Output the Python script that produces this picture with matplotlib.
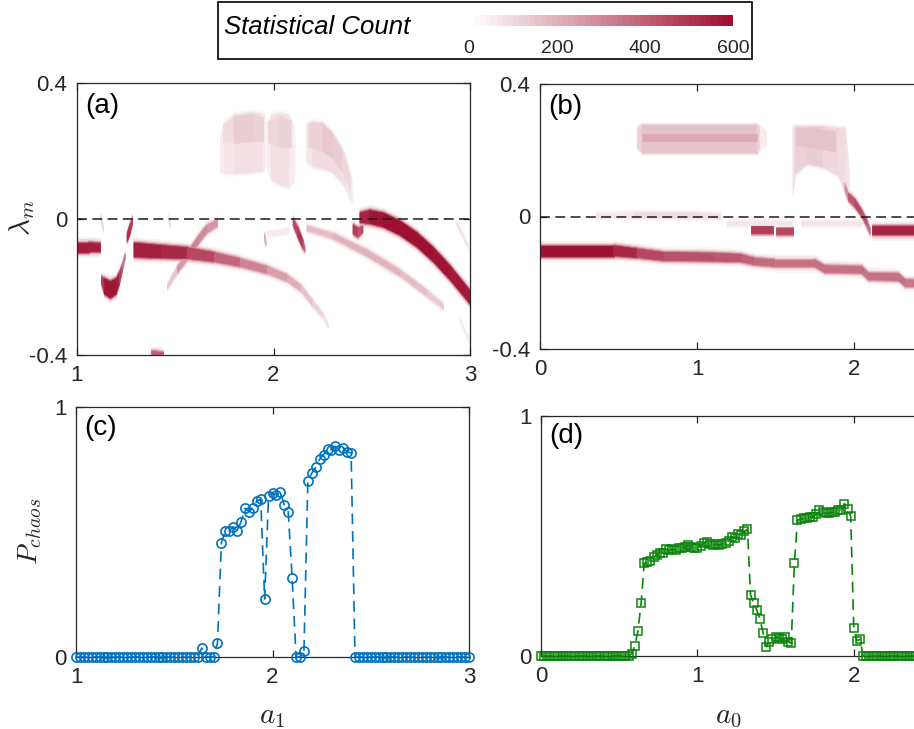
import matplotlib

matplotlib.use("Agg")
import matplotlib.pyplot as plt
import numpy as np
from matplotlib.cm import ScalarMappable
from matplotlib.collections import PolyCollection
from matplotlib.colors import LinearSegmentedColormap, Normalize
from matplotlib.patches import Rectangle

plt.rcParams["font.family"] = ["Liberation Sans", "DejaVu Sans"]
plt.rcParams["mathtext.fontset"] = "cm"

W, H = 914, 729  # output size in pixels (dpi 100)

# colour scale of the density panels
COUNT_MAX = 600
CBAR_TICKS = [0, 200, 400, 600]
DARK_RED = "#9e1030"
BLUE = "#0072bd"
GREEN = "#0a840a"
AXIS_GREY = "#262626"

# ---- panel (a): lambda_m density vs a1, rows are (a1, lambda, half width, count)
A_FLAT = [(1.00, -0.083, 0.013, 560), (1.06, -0.083, 0.013, 570), (1.12, -0.084, 0.012, 540)]
A_HOOK = [(1.125, -0.180, 0.010, 420), (1.14, -0.198, 0.022, 560), (1.17, -0.208, 0.024, 590),
          (1.20, -0.198, 0.022, 580), (1.215, -0.175, 0.017, 520), (1.23, -0.145, 0.009, 420),
          (1.245, -0.110, 0.005, 280)]
A_SPIKE = [(1.255, -0.055, 0.011, 480), (1.27, -0.030, 0.013, 560), (1.283, -0.004, 0.007, 420)]
A_MAIN = [(1.29, -0.091, 0.020, 560), (1.43, -0.096, 0.018, 550), (1.56, -0.100, 0.016, 500),
          (1.70, -0.112, 0.013, 410), (1.83, -0.128, 0.011, 340), (1.97, -0.150, 0.010, 270),
          (2.07, -0.174, 0.009, 220), (2.14, -0.204, 0.008, 180), (2.20, -0.248, 0.007, 140),
          (2.255, -0.287, 0.005, 100), (2.28, -0.316, 0.003, 60)]
A_RISE = [(1.46, -0.200, 0.005, 80), (1.51, -0.150, 0.009, 200), (1.56, -0.110, 0.011, 300),
          (1.62, -0.060, 0.011, 300), (1.66, -0.030, 0.011, 280), (1.714, -0.012, 0.009, 250)]
A_BLIP = [(2.10, -0.008, 0.009, 380), (2.125, -0.040, 0.014, 520), (2.15, -0.075, 0.011, 480),
          (2.16, -0.090, 0.005, 300)]
A_DOT = [(1.955, -0.052, 0.007, 260), (1.962, -0.072, 0.005, 200)]
A_FAINT = [(1.97, -0.045, 0.005, 60), (2.08, -0.035, 0.005, 60)]
A_SPECK1 = [(1.12, 0.008, 0.004, 100), (1.135, -0.030, 0.004, 100)]
A_SPECK2 = [(1.465, 0.004, 0.004, 90), (1.475, -0.020, 0.004, 90)]
A_THIN = [(2.17, -0.027, 0.006, 150), (2.306, -0.051, 0.007, 180), (2.475, -0.100, 0.008, 200),
          (2.645, -0.159, 0.008, 180), (2.78, -0.218, 0.008, 160), (2.865, -0.258, 0.006, 100)]
A_RIGHT = [(2.44, 0.004, 0.014, 500), (2.49, 0.006, 0.019, 580), (2.56, -0.003, 0.020, 590),
           (2.645, -0.027, 0.020, 590), (2.73, -0.061, 0.020, 590), (2.814, -0.105, 0.020, 590),
           (2.90, -0.159, 0.020, 570), (2.983, -0.218, 0.019, 570), (3.00, -0.230, 0.019, 570)]
A_STUB = [(2.405, -0.030, 0.013, 450), (2.43, -0.040, 0.013, 500), (2.455, -0.030, 0.009, 350)]
A_EDGE1 = [(2.93, -0.010, 0.003, 80), (2.99, -0.080, 0.003, 80)]
A_EDGE2 = [(2.95, -0.300, 0.003, 60), (3.00, -0.360, 0.003, 60)]
A_BOTTOM = [(1.38, -0.394, 0.005, 400), (1.44, -0.398, 0.005, 400)]
# chaotic lobes above zero: a faint body and a stronger upper part
A_LOBE1 = [(1.731, 0.190, 0.050, 40), (1.75, 0.210, 0.075, 65), (1.80, 0.220, 0.085, 75),
           (1.88, 0.225, 0.088, 80), (1.95, 0.225, 0.083, 75), (1.96, 0.220, 0.060, 40)]
A_LOBE1_TOP = [(1.745, 0.250, 0.025, 60), (1.80, 0.262, 0.040, 125), (1.90, 0.268, 0.040, 130),
               (1.95, 0.262, 0.035, 100)]
A_LOBE2 = [(1.968, 0.215, 0.060, 45), (1.99, 0.210, 0.095, 75), (2.04, 0.205, 0.105, 80),
           (2.08, 0.200, 0.105, 75), (2.105, 0.190, 0.080, 45), (2.11, 0.200, 0.050, 30)]
A_LOBE2_TOP = [(1.975, 0.255, 0.030, 80), (2.03, 0.258, 0.045, 130), (2.09, 0.248, 0.040, 115)]
A_LOBE3 = [(2.17, 0.225, 0.055, 55), (2.20, 0.220, 0.065, 85), (2.25, 0.215, 0.065, 95),
           (2.30, 0.195, 0.055, 95), (2.34, 0.165, 0.050, 90), (2.37, 0.135, 0.045, 80),
           (2.40, 0.080, 0.030, 55), (2.405, 0.060, 0.015, 30)]
A_LOBE3_TOP = [(2.18, 0.245, 0.035, 100), (2.25, 0.240, 0.040, 140), (2.30, 0.215, 0.035, 135),
               (2.35, 0.170, 0.030, 125), (2.39, 0.110, 0.020, 80)]

# ---- panel (b): lambda_m density vs a0
B_LOW = [(0.00, -0.1035, 0.015, 590), (0.469, -0.1035, 0.015, 590), (0.618, -0.1106, 0.013, 470),
         (0.789, -0.1206, 0.012, 430), (1.109, -0.1226, 0.012, 430), (1.279, -0.1256, 0.011, 400),
         (1.365, -0.1357, 0.010, 380), (1.493, -0.1407, 0.010, 360), (1.748, -0.1407, 0.010, 360),
         (1.812, -0.1588, 0.010, 360), (2.047, -0.1608, 0.010, 360), (2.09, -0.1809, 0.010, 360),
         (2.281, -0.1829, 0.010, 360), (2.324, -0.2010, 0.010, 340), (2.50, -0.2030, 0.010, 340)]
B_ZERO1 = [(0.36, 0.004, 0.005, 50), (0.60, 0.004, 0.007, 90), (1.00, 0.003, 0.007, 90),
           (1.15, 0.000, 0.006, 60)]
B_ZERO2 = [(1.19, -0.020, 0.005, 70), (1.60, -0.020, 0.005, 70)]
B_ZERO3 = [(1.66, -0.020, 0.005, 70), (2.05, -0.020, 0.005, 70)]
B_DARK1 = [(1.34, -0.040, 0.010, 480), (1.48, -0.040, 0.010, 480)]
B_DARK2 = [(1.50, -0.044, 0.009, 460), (1.61, -0.044, 0.009, 460)]
B_DARK3 = [(2.11, -0.042, 0.012, 540), (2.50, -0.042, 0.012, 540)]
B_TAIL = [(1.94, 0.090, 0.011, 200), (1.962, 0.060, 0.011, 380), (2.004, 0.040, 0.011, 450),
          (2.047, 0.010, 0.009, 450), (2.079, -0.020, 0.009, 420), (2.10, -0.045, 0.007, 350)]
B_BLOB1 = [(0.62, 0.236, 0.030, 90), (0.65, 0.236, 0.040, 150), (1.38, 0.236, 0.040, 150),
           (1.40, 0.236, 0.033, 80), (1.44, 0.236, 0.018, 30)]
B_STREAK = [(0.65, 0.238, 0.010, 220), (1.38, 0.238, 0.010, 220)]
B_BLOB2 = [(1.61, 0.170, 0.100, 40), (1.625, 0.200, 0.070, 110), (1.70, 0.215, 0.055, 130),
           (1.80, 0.210, 0.060, 120), (1.90, 0.195, 0.070, 100), (1.94, 0.170, 0.095, 85),
           (1.96, 0.120, 0.060, 80), (1.97, 0.090, 0.030, 60)]
B_BLOB2_TOP = [(1.63, 0.240, 0.025, 130), (1.75, 0.235, 0.030, 170), (1.88, 0.225, 0.030, 150)]

# ---- panel (c): P_chaos vs a1, sampled every 0.02 from 1 to 3
P_C = [0, 0, 0, 0, 0, 0, 0, 0, 0, 0, 0, 0, 0, 0, 0, 0,
       0, 0, 0, 0, 0, 0, 0, 0, 0, 0, 0, 0, 0, 0, 0, 0,
       0.036, 0, 0, 0, 0.056, 0.457, 0.505, 0.505, 0.521, 0.505, 0.541, 0.595, 0.581,
       0.595, 0.624, 0.631, 0.232, 0.644, 0.657, 0.648, 0.661, 0.608, 0.581, 0.317,
       0, 0, 0.024, 0.704, 0.735, 0.759, 0.791, 0.810, 0.832, 0.829, 0.843, 0.827,
       0.837, 0.820, 0.817,
       0, 0, 0, 0, 0, 0, 0, 0, 0, 0, 0, 0, 0, 0, 0,
       0, 0, 0, 0, 0, 0, 0, 0, 0, 0, 0, 0, 0, 0, 0]
A1 = np.linspace(1.0, 3.0, len(P_C))

# ---- panel (d): P_chaos vs a0, sampled every 0.02 from 0 to 2.5
P_D = [0, 0, 0, 0, 0, 0, 0, 0, 0, 0, 0, 0, 0, 0, 0,
       0, 0, 0, 0, 0, 0, 0, 0, 0, 0, 0, 0, 0, 0,
       0.010, 0.043, 0.105, 0.219, 0.386, 0.390, 0.395, 0.413, 0.420, 0.431, 0.430,
       0.444, 0.440, 0.445, 0.441, 0.448, 0.452, 0.455, 0.462, 0.455, 0.451, 0.451,
       0.460, 0.470, 0.476, 0.465, 0.462, 0.466, 0.462, 0.468, 0.469, 0.480, 0.497,
       0.490, 0.510, 0.505, 0.520, 0.528, 0.254, 0.220, 0.191, 0.154, 0.097, 0.039,
       0.060, 0.070, 0.080, 0.074, 0.070, 0.080, 0.060, 0.053, 0.386, 0.566, 0.570,
       0.573, 0.575, 0.580, 0.580, 0.590, 0.607, 0.600, 0.594, 0.595, 0.598, 0.600,
       0.607, 0.610, 0.635, 0.614, 0.583, 0.115, 0.064, 0.069,
       0, 0, 0, 0, 0, 0, 0, 0, 0, 0, 0, 0,
       0, 0, 0, 0, 0, 0, 0, 0, 0, 0, 0]
A0 = np.linspace(0.0, 2.5, len(P_D))

cmap = LinearSegmentedColormap.from_list("count", ["#ffffff", DARK_RED], N=48)
norm = Normalize(0, COUNT_MAX)

# blurred edges: (extra half width in lambda units, share of the count), outermost first
SOFT = [(0.016, 0.07), (0.010, 0.20), (0.006, 0.42), (0.003, 0.70), (0.0, 1.0)]


def band_polys(rows, extra, share):
    polys, colors = [], []
    for (x0, y0, h0, c0), (x1, y1, h1, c1) in zip(rows[:-1], rows[1:]):
        polys.append([(x0, y0 - h0 - extra), (x1, y1 - h1 - extra),
                      (x1, y1 + h1 + extra), (x0, y0 + h0 + extra)])
        colors.append(cmap(norm(0.5 * (c0 + c1) * share)))
    return polys, colors


def draw_density(ax, bands):
    for layer, (extra, share) in enumerate(SOFT):
        polys, colors = [], []
        for rows in bands:
            p, c = band_polys(rows, extra, share)
            polys += p
            colors += c
        ax.add_collection(PolyCollection(polys, facecolors=colors, edgecolors=colors,
                                         linewidths=0.5, zorder=1 + layer * 0.1))
    ax.axhline(0, color="#1a1a1a", lw=1.1, ls=(0, (6.5, 3.5)), zorder=3)


def style_axes(ax, xlim, xticks, ylim, yticks, yticklabels, tag):
    ax.set_xlim(xlim)
    ax.set_ylim(ylim)
    ax.set_xticks(xticks, [str(t) for t in xticks])
    ax.set_yticks(yticks, yticklabels)
    ax.tick_params(direction="in", length=5, width=0.9, top=True, right=True,
                   labelsize=16, pad=7, color=AXIS_GREY, labelcolor=AXIS_GREY)
    for spine in ax.spines.values():
        spine.set_linewidth(0.9)
        spine.set_color(AXIS_GREY)
    ax.text(0.022, 0.915, tag, transform=ax.transAxes, fontsize=20,
            ha="left", va="center", zorder=10)


def axes_at(fig, left, top, width, bottom):
    return fig.add_axes([left / W, 1 - bottom / H, width / W, (bottom - top) / H])


fig = plt.figure(figsize=(W / 100, H / 100), dpi=100)

ax_a = axes_at(fig, 77, 83, 393, 355)
ax_b = axes_at(fig, 540, 84, 393, 349)
ax_c = axes_at(fig, 76, 407, 393, 657)
ax_d = axes_at(fig, 541, 416, 391, 656)

draw_density(ax_a, [A_LOBE1, A_LOBE2, A_LOBE3, A_LOBE1_TOP, A_LOBE2_TOP, A_LOBE3_TOP,
                    A_FAINT, A_SPECK1, A_SPECK2, A_EDGE1, A_EDGE2, A_THIN, A_RISE,
                    A_MAIN, A_FLAT, A_HOOK, A_SPIKE, A_BLIP, A_DOT, A_RIGHT, A_STUB,
                    A_BOTTOM])
draw_density(ax_b, [B_BLOB1, B_STREAK, B_BLOB2, B_BLOB2_TOP, B_ZERO1, B_ZERO2, B_ZERO3,
                    B_LOW, B_DARK1, B_DARK2, B_DARK3, B_TAIL])

lam_ticks = [-0.4, 0, 0.4]
lam_labels = ["-0.4", "0", "0.4"]
style_axes(ax_a, (1, 3), [1, 2, 3], (-0.4, 0.4), lam_ticks, lam_labels, "(a)")
style_axes(ax_b, (0, 2.5), [0, 1, 2], (-0.4, 0.4), lam_ticks, lam_labels, "(b)")

dash = (0, (6.5, 4))
ax_c.plot(A1, P_C, ls=dash, lw=1.2, color=BLUE, marker="o", ms=6.6,
          mfc="none", mec=BLUE, mew=1.2, clip_on=False, zorder=4)
ax_d.plot(A0, P_D, ls=dash, lw=1.2, color=GREEN, marker="s", ms=5.6,
          mfc="none", mec=GREEN, mew=1.1, clip_on=False, zorder=4)
style_axes(ax_c, (1, 3), [1, 2, 3], (0, 1), [0, 1], ["0", "1"], "(c)")
style_axes(ax_d, (0, 2.5), [0, 1, 2], (0, 1), [0, 1], ["0", "1"], "(d)")

# axis labels placed where the reference has them
fig.text(22 / W, 1 - 218 / H, r"$\lambda_m$", fontsize=21, rotation=90,
         ha="center", va="center", color=AXIS_GREY)
fig.text(30 / W, 1 - 531 / H, r"$P_{chaos}$", fontsize=20, rotation=90,
         ha="center", va="center", color=AXIS_GREY)
fig.text(272 / W, 1 - 716 / H, r"$a_1$", fontsize=21, ha="center", va="center",
         color=AXIS_GREY)
fig.text(728 / W, 1 - 716 / H, r"$a_0$", fontsize=21, ha="center", va="center",
         color=AXIS_GREY)

# colour bar in a framed box at the top
fig.patches.append(Rectangle((218 / W, 1 - 59 / H), (752 - 218) / W, 57 / H,
                             transform=fig.transFigure, fill=False,
                             ec="black", lw=1.2))
fig.text(224 / W, 1 - 27 / H, "Statistical Count", fontsize=18.5, style="italic",
         ha="left", va="center")
cax = fig.add_axes([469 / W, 1 - 26 / H, 264 / W, 11 / H])
cbar = fig.colorbar(ScalarMappable(norm=norm, cmap=cmap), cax=cax,
                    orientation="horizontal", ticks=CBAR_TICKS)
cbar.outline.set_visible(False)
cbar.ax.tick_params(length=0, labelsize=14, pad=10, labelcolor=AXIS_GREY)

fig.savefig("out.png", dpi=100)
